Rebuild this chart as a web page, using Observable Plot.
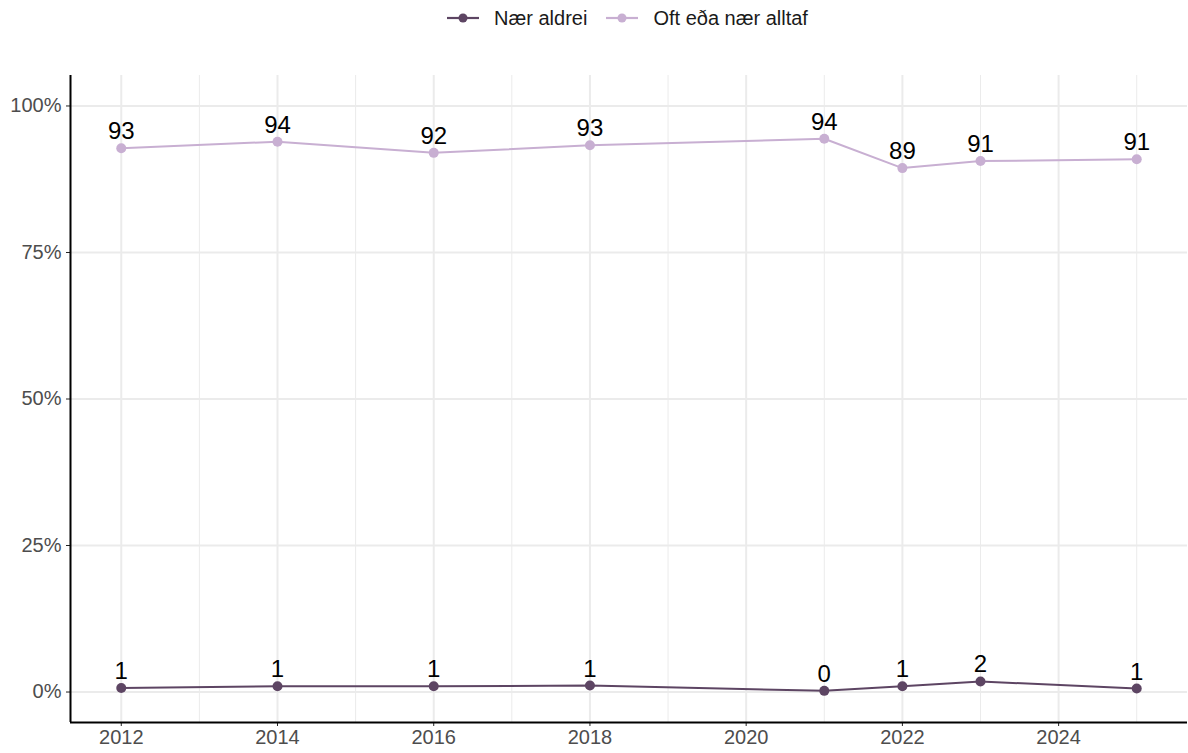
<!DOCTYPE html>
<html>
<head>
<meta charset="utf-8">
<script src="https://cdn.jsdelivr.net/npm/d3@7"></script>
<script src="https://cdn.jsdelivr.net/npm/@observablehq/plot@0.6"></script>
<style>
  body { margin: 0; background: #fff; font-family: "Liberation Sans", Arial, sans-serif; }
  #legend { height: 36px; display: flex; justify-content: center; align-items: center; gap: 18px; font-size: 20px; color: #1a1a1a; padding-left: 66px; box-sizing: border-box; }
  .item { display: flex; align-items: center; gap: 14px; }
  svg.plot text { font-family: "Liberation Sans", Arial, sans-serif; }
</style>
</head>
<body>
<div id="legend"></div>
<div id="chart"></div>
<script>
const years = [2012, 2014, 2016, 2018, 2021, 2022, 2023, 2025];
const seriesNames = ["Nær aldrei", "Oft eða nær alltaf"];
const naerAldrei = [0.7, 1.0, 1.0, 1.1, 0.2, 1.0, 1.8, 0.6];
const oftEda = [92.8, 93.9, 92.0, 93.3, 94.4, 89.4, 90.6, 90.9];
const colors = ["#5d4563", "#c8afd2"];
const yTicks = [0, 25, 50, 75, 100];
const xMajor = [2012, 2014, 2016, 2018, 2020, 2022, 2024];
const xMinor = [2013, 2015, 2017, 2019, 2021, 2023, 2025];

const data = [];
years.forEach((y, i) => {
  data.push({year: y, value: naerAldrei[i], series: seriesNames[0]});
  data.push({year: y, value: oftEda[i], series: seriesNames[1]});
});

// legend
const leg = document.getElementById("legend");
seriesNames.forEach((s, i) => {
  const it = document.createElement("div");
  it.className = "item";
  it.innerHTML = `<svg width="34" height="14"><line x1="1" x2="33" y1="7" y2="7" stroke="${colors[i]}" stroke-width="2.2"/><circle cx="17" cy="7" r="4.5" fill="${colors[i]}"/></svg><span>${s}</span>`;
  leg.appendChild(it);
});

const chart = Plot.plot({
  width: 1188,
  height: 717,
  marginLeft: 70,
  marginRight: 1,
  marginTop: 39,
  marginBottom: 31,
  style: {fontFamily: "Liberation Sans, Arial, sans-serif", fontSize: "20px", background: "#fff"},
  x: {domain: [2011.35, 2025.65]},
  y: {domain: [-5.2, 105.2]},
  color: {domain: seriesNames, range: colors},
  marks: [
    Plot.ruleX(xMinor, {stroke: "#ebebeb", strokeWidth: 1}),
    Plot.ruleX(xMajor, {stroke: "#ebebeb", strokeWidth: 2}),
    Plot.ruleY(yTicks, {stroke: "#ebebeb", strokeWidth: 2}),
    Plot.axisY({ticks: yTicks, tickFormat: d => d + "%", tickSize: 4, tickPadding: 5, fontSize: 20, color: "#4d4d4d", stroke: "#222", label: null}),
    Plot.axisX({ticks: xMajor, tickFormat: d => String(d), tickSize: 4, tickPadding: 3, fontSize: 20, color: "#4d4d4d", stroke: "#222", label: null}),
    Plot.ruleX([2011.35], {stroke: "#000", strokeWidth: 2}),
    Plot.ruleY([-5.2], {stroke: "#000", strokeWidth: 2}),
    Plot.lineY(data, {x: "year", y: "value", z: "series", stroke: "series", strokeWidth: 2}),
    Plot.dot(data, {x: "year", y: "value", fill: "series", r: 5}),
    Plot.text(data, {x: "year", y: "value", text: d => String(Math.round(d.value)), lineAnchor: "bottom", dy: -9, fontSize: 24, fill: "#000"})
  ]
});
document.getElementById("chart").appendChild(chart);
</script>
</body>
</html>
